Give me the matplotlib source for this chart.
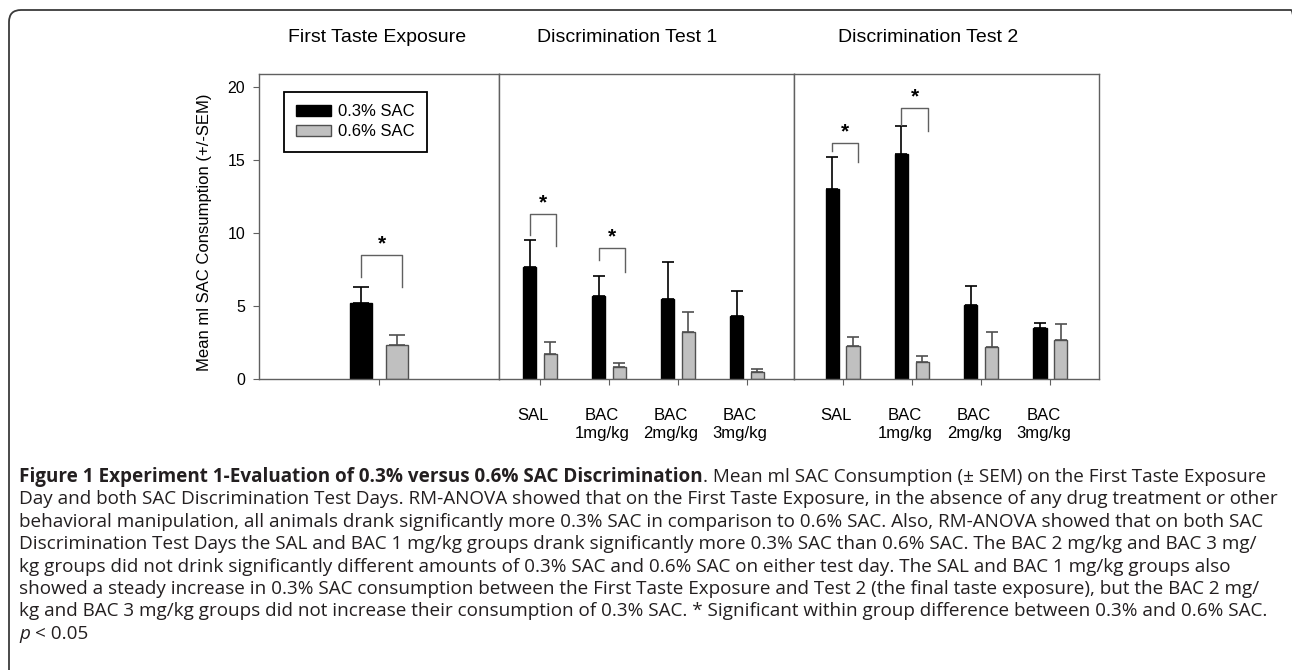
import numpy as np
import matplotlib.pyplot as plt
from matplotlib.patches import FancyBboxPatch, Patch
from matplotlib.transforms import IdentityTransform, ScaledTranslation

plt.rcParams['font.family'] = ['Liberation Sans', 'DejaVu Sans']

# ---- data (ml SAC, mean and SEM) ----
groups = ['SAL', 'BAC\n1mg/kg', 'BAC\n2mg/kg', 'BAC\n3mg/kg']
series = ['0.3% SAC', '0.6% SAC']
panel_titles = ['First Taste Exposure', 'Discrimination Test 1', 'Discrimination Test 2']

first_low = [5.2]
first_low_err = [1.1]
first_high = [2.3]
first_high_err = [0.7]

test1_low = [7.7, 5.7, 5.45, 4.35]
test1_low_err = [1.83, 1.35, 2.55, 1.67]
test1_high = [1.7, 0.85, 3.22, 0.46]
test1_high_err = [0.86, 0.22, 1.35, 0.2]

test2_low = [13.0, 15.45, 5.05, 3.52]
test2_low_err = [2.24, 1.92, 1.35, 0.3]
test2_high = [2.29, 1.19, 2.17, 2.67]
test2_high_err = [0.61, 0.41, 1.03, 1.12]

# significance brackets: (group, top, left foot, right foot)
first_sig = [(0, 8.5, 7.0, 6.3)]
test1_sig = [(0, 11.3, 9.9, 9.1), (1, 9.0, 8.15, 7.35)]
test2_sig = [(0, 16.2, 15.6, 14.85), (1, 18.55, 17.4, 17.0)]

caption = [
    'Day and both SAC Discrimination Test Days. RM-ANOVA showed that on the First Taste Exposure, in the absence of any drug treatment or other',
    'behavioral manipulation, all animals drank significantly more 0.3% SAC in comparison to 0.6% SAC. Also, RM-ANOVA showed that on both SAC',
    'Discrimination Test Days the SAL and BAC 1 mg/kg groups drank significantly more 0.3% SAC than 0.6% SAC. The BAC 2 mg/kg and BAC 3 mg/',
    'kg groups did not drink significantly different amounts of 0.3% SAC and 0.6% SAC on either test day. The SAL and BAC 1 mg/kg groups also',
    'showed a steady increase in 0.3% SAC consumption between the First Taste Exposure and Test 2 (the final taste exposure), but the BAC 2 mg/',
    'kg and BAC 3 mg/kg groups did not increase their consumption of 0.3% SAC. * Significant within group difference between 0.3% and 0.6% SAC.',
]
caption_bold = 'Figure 1 Experiment 1-Evaluation of 0.3% versus 0.6% SAC Discrimination'
caption_first = '. Mean ml SAC Consumption (\u00b1 SEM) on the First Taste Exposure'

W, H = 1292, 670
fig = plt.figure(figsize=(W / 100, H / 100), dpi=100)

SPINE = '#606060'
GRAY = '#c0c0c0'
EDGE = '#505050'
INK = '#231f20'


def px(x, y):
    return x / W, 1 - y / H


def make_panel(x0, x1, xlim):
    l, b = px(x0, 379)
    r, t = px(x1, 74)
    ax = fig.add_axes([l, b, r - l, t - b])
    ax.set_xlim(*xlim)
    ax.set_ylim(0, 20.9)
    for s in ax.spines.values():
        s.set_color(SPINE)
        s.set_linewidth(1.0)
    ax.tick_params(axis='x', direction='out', length=4, color=SPINE,
                   labelsize=12, pad=17)
    ax.tick_params(axis='y', left=False, labelleft=False)
    return ax


def draw(ax, low, low_err, high, high_err, sig, off, width, cap):
    x = np.arange(len(low))
    ax.bar(x - off, low, width, color='black', edgecolor='black', lw=1, zorder=2)
    ax.bar(x + off, high, width, color=GRAY, edgecolor=EDGE, lw=1, zorder=2)
    ax.errorbar(x - off, low, yerr=[np.zeros(len(low)), low_err], fmt='none',
                ecolor='black', elinewidth=1.2, capsize=cap, capthick=1.2, zorder=1)
    ax.errorbar(x + off, high, yerr=[np.zeros(len(high)), high_err], fmt='none',
                ecolor=EDGE, elinewidth=1.2, capsize=cap, capthick=1.2, zorder=1)
    for g, top, lf, rf in sig:
        xl, xr = g - off, g + off + 0.08
        ax.plot([xl, xl, xr, xr], [lf, top, top, rf], color=SPINE, lw=1.0)
        ax.text((xl + xr) / 2, top + 0.75, '*', ha='center', va='center',
                fontsize=15, fontweight='bold')


# panel 1
ax1 = make_panel(259, 499, (-1.74, 1.74))
draw(ax1, first_low, first_low_err, first_high, first_high_err, first_sig, 0.255, 0.32, 5.5)
ax1.set_xticks([0])
ax1.set_xticklabels([''])
ax1.set_yticks([0, 5, 10, 15, 20])
ax1.tick_params(axis='y', left=True, labelleft=True, direction='out', length=4,
                color=SPINE, labelsize=11.5, pad=6)
ax1.legend([Patch(facecolor='black', edgecolor='black'),
            Patch(facecolor=GRAY, edgecolor=EDGE)], series,
           loc='upper left', bbox_to_anchor=(0.104, 0.942), fontsize=12,
           frameon=True, fancybox=False, edgecolor='black', framealpha=1,
           handlelength=2.1, handleheight=0.6, handletextpad=0.4,
           borderpad=0.75, labelspacing=0.3, borderaxespad=0)
ax1.get_legend().get_frame().set_linewidth(1.3)

# panel 2
ax2 = make_panel(499, 794, (-0.594, 3.68))
draw(ax2, test1_low, test1_low_err, test1_high, test1_high_err, test1_sig, 0.15, 0.195, 4.6)
ax2.set_xticks(range(len(groups)))
ax2.set_xticklabels(groups)

# panel 3
ax3 = make_panel(794, 1099, (-0.70, 3.70))
draw(ax3, test2_low, test2_low_err, test2_high, test2_high_err, test2_sig, 0.15, 0.19, 4.6)
ax3.set_xticks(range(len(groups)))
ax3.set_xticklabels(groups)

shift = ScaledTranslation(-5 / 72, 0, fig.dpi_scale_trans)
for ax in (ax2, ax3):
    for lab in ax.get_xticklabels():
        lab.set_transform(lab.get_transform() + shift)

# panel titles and y label
for cx, title in zip([377, 627, 928], panel_titles):
    fig.text(*px(cx, 37), title, ha='center', va='center', fontsize=14)
fig.text(*px(205, 232), 'Mean ml SAC Consumption (+/-SEM)', rotation=90,
         ha='center', va='center', fontsize=12)

# caption
cap_font = 'Open Sans'
renderer = fig.canvas.get_renderer()
probe = fig.text(0, 0, caption[0], fontsize=10, family=cap_font)
size = 10 * 1259 / probe.get_window_extent(renderer).width
probe.remove()

x0 = 19 / W
ys = [477 + 22.4 * i for i in range(8)]
tb = fig.text(x0, px(0, ys[0])[1], caption_bold, fontsize=size, family=cap_font,
              fontweight='bold', va='center', color=INK)
bw = tb.get_window_extent(renderer).width
fig.text(x0 + bw / W, px(0, ys[0])[1], caption_first, fontsize=size,
         family=cap_font, va='center', color=INK)
for line, y in zip(caption, ys[1:7]):
    fig.text(x0, px(0, y)[1], line, fontsize=size, family=cap_font,
             va='center', color=INK)
tp = fig.text(x0, px(0, ys[7])[1], 'p', fontsize=size, family=cap_font,
              style='italic', va='center', color=INK)
pw = tp.get_window_extent(renderer).width
fig.text(x0 + (pw + 0.28 * size * 100 / 72) / W, px(0, ys[7])[1], '< 0.05',
         fontsize=size, family=cap_font, va='center', color=INK)

# outer frame with rounded top corners
frame = FancyBboxPatch((9, -30), 1294, 690, boxstyle='round,pad=0,rounding_size=12',
                       transform=IdentityTransform(), fill=False,
                       edgecolor='#3a3a3a', lw=1.3)
fig.add_artist(frame)

fig.savefig('out.png', dpi=100)
